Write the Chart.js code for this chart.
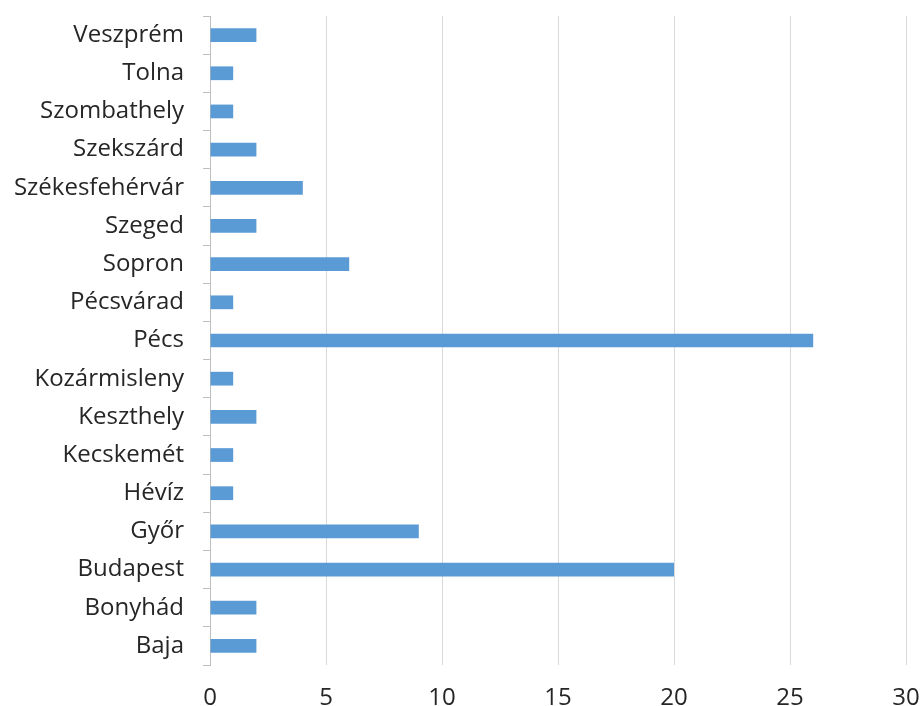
<!DOCTYPE html>
<html><head><meta charset="utf-8">
<script src="https://cdn.jsdelivr.net/npm/chart.js@4/dist/chart.umd.min.js"></script>
<style>html,body{margin:0;padding:0;background:#fff}#wrap{width:920px;height:706px;position:relative}</style>
</head><body><div id="wrap"><canvas id="c" width="920" height="706"></canvas></div>
<script>
const categories = ["Veszprém","Tolna","Szombathely","Szekszárd","Székesfehérvár","Szeged","Sopron","Pécsvárad","Pécs","Kozármisleny","Keszthely","Kecskemét","Hévíz","Győr","Budapest","Bonyhád","Baja"];
const values = [2,1,1,2,4,2,6,1,26,1,2,1,1,9,20,2,2];
const xTicks = [0,5,10,15,20,25,30];

const FONT = "'Open Sans', sans-serif";
new Chart(document.getElementById('c'), {
  type: 'bar',
  data: { labels: categories, datasets: [{ data: values, backgroundColor: '#5b9bd5', categoryPercentage: 1, barPercentage: 0.36 }] },
  options: {
    indexAxis: 'y', responsive: false, animation: false,
    layout: { padding: { top: 16, right: 14, bottom: 0, left: 0 } },
    plugins: { legend: { display: false }, tooltip: { enabled: false } },
    scales: {
      x: {
        min: xTicks[0], max: xTicks[xTicks.length-1],
        afterBuildTicks: s => { s.ticks = xTicks.map(v => ({ value: v })); },
        grid: { color: '#d9d9d9', lineWidth: 1, drawTicks: false },
        border: { display: false },
        ticks: { color: '#262626', font: { family: FONT, size: 24 }, padding: 19 },
        afterFit: s => { s.height = 706 - 665; s.paddingLeft = 0; s.paddingRight = 0; }
      },
      y: {
        grid: { drawOnChartArea: false, color: '#bfbfbf', tickLength: 7, offset: true },
        border: { display: true, color: '#bfbfbf' },
        ticks: { color: '#262626', font: { family: FONT, size: 24 }, padding: 19 },
        afterFit: s => { s.width = 210; s.paddingTop = 0; s.paddingBottom = 0; }
      }
    }
  }
});
</script></body></html>
